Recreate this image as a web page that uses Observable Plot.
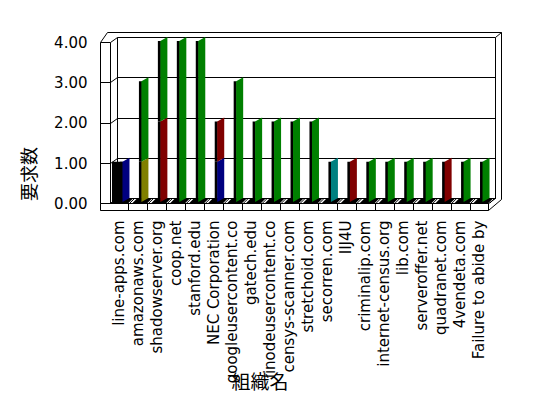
<!DOCTYPE html>
<html><head><meta charset="utf-8">
<script src="https://cdn.jsdelivr.net/npm/d3@7"></script>
<script src="https://cdn.jsdelivr.net/npm/@observablehq/plot@0.6"></script>
<style>
body{margin:0;background:#fff}
g[aria-description="face"] rect{transform-box:fill-box;transform-origin:0% 100%;transform:skewY(-30deg);}
</style></head><body><div id="chart"></div>
<script>
const orgs = ["line-apps.com","amazonaws.com","shadowserver.org","coop.net","stanford.edu","NEC Corporation","googleusercontent.co","gatech.edu","linodeusercontent.co","censys-scanner.com","stretchoid.com","secorren.com","IIJ4U","criminalip.com","internet-census.org","lib.com","serveroffer.net","quadranet.com","4vendeta.com","Failure to abide by"];
const seriesNames = ["系列1","系列2","系列3","系列4","系列5","系列6"];
const seriesColors = ["#000000","#000080","#808000","#800000","#008080","#008000"];
const s1 = [1,0,0,0,0,0,0,0,0,0,0,0,0,0,0,0,0,0,0,0];
const s2 = [1,0,0,0,0,1,0,0,0,0,0,0,0,0,0,0,0,0,0,0];
const s3 = [0,1,0,0,0,0,0,0,0,0,0,0,0,0,0,0,0,0,0,0];
const s4 = [0,0,2,0,0,1,0,0,0,0,0,0,1,0,0,0,0,1,0,0];
const s5 = [0,0,0,0,0,0,0,0,0,0,0,1,0,0,0,0,0,0,0,0];
const s6 = [0,2,2,4,4,0,3,2,2,2,2,0,0,1,1,1,1,0,1,1];
const yTicks = [0,1,2,3,4];

const blackRows = orgs.map((o,i)=>({org:o, series:seriesNames[0], value:s1[i]})).filter(d=>d.value>0);
const rows = [];
[s2,s3,s4,s5,s6].forEach((arr,k)=>arr.forEach((v,i)=>{ if(v>0) rows.push({org:orgs[i], series:seriesNames[k+1], value:v}); }));
const stackOrder = seriesNames.slice(1);

const X0 = 115, X1 = 494;
const yr = [199, 38];
const bw = (X1-X0)/orgs.length;
const half = bw/2;

const chart = Plot.plot({
  width: 548, height: 398,
  marginLeft: 100, marginRight: 40, marginTop: 30, marginBottom: 188,
  style: {fontFamily: "'DejaVu Sans', sans-serif", background: "#fff", color: "#000"},
  x: {type: "band", domain: orgs, range: [X0, X1], padding: 0, round: false},
  y: {domain: [0, 4], range: yr},
  color: {domain: seriesNames, range: seriesColors},
  marks: [
    Plot.axisY({ticks: yTicks, tickFormat: d => d.toFixed(2), tickSize: 0, tickPadding: 13, dy: 4.5, fontSize: 15, label: null}),
    Plot.axisX({tickSize: 0, tickPadding: 10, tickRotate: -90, dx: -6, fontSize: 15, label: null}),
    Plot.barY(blackRows, {x: "org", y: "value", fill: "series", insetLeft: half-4.5, insetRight: half-6, dx: -8, dy: 3}),
    Plot.barY(rows, Plot.stackY({x: "org", y: "value", z: "series", order: stackOrder, fill: "#000", insetLeft: half-4.5, insetRight: half+1.5, dy: 3})),
    Plot.barY(rows, Plot.stackY({x: "org", y: "value", z: "series", order: stackOrder, fill: "series", insetLeft: half-2, insetRight: half-5, dy: 3, ariaDescription: "face"}))
  ]
});

// 3D frame decoration
const svg = d3.select(chart);
const ys = d3.scaleLinear([0,4], yr);
const xs = d3.scaleBand(orgs, [X0, X1]);
const g = svg.insert("g", "g").attr("stroke", "#000").attr("fill", "none").attr("stroke-width", 1);
const P = d3.line();
const yb = v => Math.round(ys(v)) - 1 + 0.5;
const L = 100.5, Li = 110.5, B = 117.5, R = 495.5, RO = 501.5, FR = 488.5;
const yTopF = yb(4) + 5, yFloorF = yb(0) + 5, yBottom = yFloorF + 7;
// floor top (dark)
g.append("path").attr("d", P([[Li, yFloorF],[FR, yFloorF],[R, yb(0)],[B, yb(0)]])+"Z").attr("fill", "#000");
// white marks on floor after each bar
orgs.forEach(o => {
  const c = xs(o) + half;
  g.append("path").attr("d", P([[c+4, yFloorF-0.5],[c+8, yFloorF-0.5],[c+12, yb(0)+0.5],[c+8, yb(0)+0.5]])+"Z").attr("fill", "#fff").attr("stroke", "none");
  g.append("path").attr("d", P([[c+5.5, yFloorF-0.5],[c+9.5, yb(0)+0.5]]));
});
// back wall gridlines
yTicks.forEach(v => {
  g.append("path").attr("d", P([[B, yb(v)],[R, yb(v)]]));
  g.append("path").attr("d", P([[L, yb(v)+5],[Li, yb(v)+5],[B, yb(v)]]));
});
g.append("path").attr("d", P([[B, yb(4)],[B, yb(0)]]));
g.append("path").attr("d", P([[R, yb(4)],[R, yb(0)]]));
g.append("path").attr("d", P([[L, yTopF],[L, yBottom]]));
g.append("path").attr("d", P([[Li, yTopF],[Li, yFloorF]]));
// top edges
g.append("path").attr("d", P([[L, yTopF],[107.5, yb(4)-5],[RO, yb(4)-5],[RO, yb(0)+1]]));
g.append("path").attr("d", P([[R, yb(4)],[RO, yb(4)-5]]));
// front floor slab
g.append("path").attr("d", P([[L, yFloorF],[FR, yFloorF],[FR, yBottom],[L, yBottom]])+"Z").attr("fill", "#fff");
for (let k = 1; k < orgs.length; k++) {
  const x = Math.round(X0 + k*bw - 5.5) + 0.5;
  g.append("path").attr("d", P([[x, yFloorF],[x, yBottom]]));
}
g.append("path").attr("d", P([[FR, yFloorF],[R, yb(0)]]));
g.append("path").attr("d", P([[FR, yBottom],[RO, yb(0)+1]]));

// titles
svg.append("text").attr("transform", "translate(28,174) rotate(-90)").attr("text-anchor", "middle").attr("dominant-baseline", "central")
  .attr("font-family", "'Noto Sans CJK JP', sans-serif").attr("font-size", 18).text("要求数");
svg.append("text").attr("x", 260).attr("y", 380).attr("text-anchor", "middle").attr("dominant-baseline", "central")
  .attr("font-family", "'Noto Sans CJK JP', sans-serif").attr("font-size", 19).text("組織名");

document.getElementById("chart").appendChild(chart);
</script></body></html>
